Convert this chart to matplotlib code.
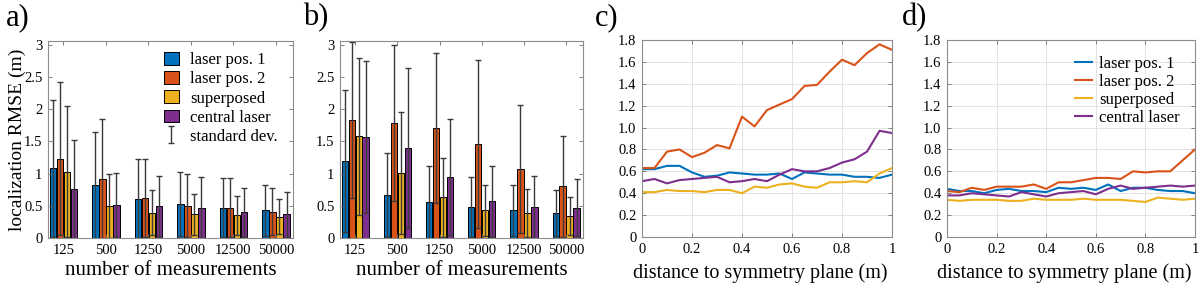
import numpy as np
import matplotlib
matplotlib.use("Agg")
import matplotlib.pyplot as plt

plt.rcParams['font.family'] = ['Liberation Serif', 'DejaVu Serif']

series = ['laser pos. 1', 'laser pos. 2', 'superposed', 'central laser']
colors = ['#0072BD', '#D95319', '#EDB120', '#7E2F8E']
n_meas = ['125', '500', '1250', '5000', '12500', '50000']

# panel a: mean RMSE and standard deviation per series
a_mean = [[1.08, 0.82, 0.61, 0.53, 0.47, 0.43],
          [1.23, 0.92, 0.62, 0.50, 0.47, 0.41],
          [1.03, 0.50, 0.39, 0.37, 0.35, 0.33],
          [0.76, 0.51, 0.49, 0.47, 0.40, 0.37]]
a_std = [[1.06, 0.83, 0.61, 0.50, 0.46, 0.40],
         [1.19, 0.93, 0.61, 0.49, 0.46, 0.37],
         [1.02, 0.50, 0.35, 0.32, 0.30, 0.27],
         [0.77, 0.50, 0.48, 0.47, 0.38, 0.35]]

# panel b
b_mean = [[1.20, 0.67, 0.56, 0.48, 0.43, 0.39],
          [1.83, 1.79, 1.71, 1.46, 1.07, 0.80],
          [1.58, 1.01, 0.63, 0.43, 0.39, 0.34],
          [1.57, 1.40, 0.95, 0.57, 0.48, 0.47]]
b_std = [[1.10, 0.65, 0.56, 0.47, 0.40, 0.36],
         [1.21, 1.21, 1.17, 1.30, 1.00, 0.78],
         [1.22, 0.95, 0.62, 0.40, 0.37, 0.29],
         [1.18, 1.24, 0.90, 0.55, 0.48, 0.44]]

dist = [0.0, 0.05, 0.1, 0.15, 0.2, 0.25, 0.3, 0.35, 0.4, 0.45, 0.5,
        0.55, 0.6, 0.65, 0.7, 0.75, 0.8, 0.85, 0.9, 0.95, 1.0]

c_lines = [
    [0.62, 0.62, 0.65, 0.65, 0.59, 0.55, 0.56, 0.59, 0.58, 0.57, 0.57,
     0.58, 0.53, 0.59, 0.58, 0.57, 0.57, 0.55, 0.55, 0.54, 0.57],
    [0.63, 0.63, 0.78, 0.80, 0.73, 0.77, 0.84, 0.81, 1.10, 1.01, 1.16,
     1.21, 1.26, 1.38, 1.39, 1.51, 1.62, 1.57, 1.68, 1.76, 1.71],
    [0.41, 0.41, 0.43, 0.42, 0.42, 0.41, 0.43, 0.43, 0.40, 0.46, 0.45,
     0.48, 0.49, 0.46, 0.45, 0.50, 0.50, 0.51, 0.50, 0.58, 0.63],
    [0.51, 0.53, 0.49, 0.52, 0.53, 0.54, 0.55, 0.50, 0.51, 0.53, 0.51,
     0.57, 0.62, 0.60, 0.60, 0.63, 0.68, 0.71, 0.78, 0.97, 0.95],
]

d_lines = [
    [0.44, 0.42, 0.42, 0.40, 0.43, 0.44, 0.42, 0.42, 0.41, 0.45, 0.44,
     0.45, 0.43, 0.48, 0.42, 0.45, 0.45, 0.43, 0.42, 0.42, 0.40],
    [0.42, 0.41, 0.45, 0.43, 0.46, 0.46, 0.46, 0.48, 0.44, 0.50, 0.50,
     0.52, 0.54, 0.54, 0.53, 0.60, 0.59, 0.60, 0.60, 0.70, 0.80],
    [0.34, 0.33, 0.34, 0.34, 0.34, 0.33, 0.33, 0.35, 0.34, 0.34, 0.34,
     0.35, 0.34, 0.34, 0.34, 0.33, 0.32, 0.36, 0.35, 0.34, 0.35],
    [0.38, 0.38, 0.40, 0.39, 0.38, 0.37, 0.41, 0.39, 0.37, 0.40, 0.41,
     0.42, 0.39, 0.44, 0.47, 0.44, 0.45, 0.46, 0.47, 0.46, 0.47],
]

W, H = 1200, 284
fig = plt.figure(figsize=(12, 2.84), dpi=100)


def box(l, r, t, b):
    return [l / W, 1 - b / H, (r - l) / W, (b - t) / H]


def style(ax):
    for s in ax.spines.values():
        s.set_color('#8c8c8c')
        s.set_linewidth(0.8)
    ax.tick_params(direction='in', top=True, right=True, length=3,
                   color='#6e6e6e', labelsize=10.5, width=0.6, pad=4)


def bar_panel(ax, means, stds, legend=False):
    x = np.arange(len(n_meas))
    w = 0.15
    for i in range(4):
        pos = x + (i - 1.5) * 0.165
        ax.bar(pos, means[i], w, color=colors[i], edgecolor='black',
               linewidth=0.7, label=series[i])
        ax.errorbar(pos, means[i], yerr=stds[i], fmt='none', ecolor='#3a3a3a',
                    elinewidth=1.0, capsize=2.2, capthick=1.0)
    ax.set_xlim(-0.36, len(n_meas) - 0.6)
    ax.set_ylim(0, 3.06)
    ax.set_yticks([0, 0.5, 1, 1.5, 2, 2.5, 3])
    ax.set_yticklabels(['0', '0.5', '1', '1.5', '2', '2.5', '3'])
    ax.set_xticks(x)
    ax.set_xticklabels(n_meas)
    ax.set_xlabel('number of measurements', fontsize=15, labelpad=3)
    style(ax)
    if legend:
        h, l = ax.get_legend_handles_labels()
        sd = ax.errorbar([np.nan], [np.nan], yerr=[1.0], fmt='none',
                         ecolor='#3a3a3a', elinewidth=1.0, capsize=2.2,
                         capthick=1.0)
        ax.legend(h[:4] + [sd], l[:4] + ['standard dev.'], loc='upper right',
                  frameon=False, fontsize=12, handlelength=0.9,
                  handleheight=0.8, labelspacing=0.18, handletextpad=0.7,
                  bbox_to_anchor=(1.0, 1.02))


def line_panel(ax, lines, legend=False):
    for i in range(4):
        ax.plot(dist, lines[i], color=colors[i], linewidth=1.5, label=series[i])
    ax.set_xlim(0, 1)
    ax.set_ylim(0, 1.8)
    ax.set_xticks([0, 0.2, 0.4, 0.6, 0.8, 1])
    ax.set_xticklabels(['0', '0.2', '0.4', '0.6', '0.8', '1'])
    ax.set_yticks(np.arange(0, 1.81, 0.2))
    ax.set_yticklabels(['0'] + ['%.1f' % v for v in np.arange(0.2, 1.81, 0.2)])
    ax.grid(True, color='#e3e3e3', linewidth=0.7)
    ax.set_xlabel('distance to symmetry plane (m)', fontsize=14.5)
    ax.xaxis.set_label_coords(0.472, -0.135)
    style(ax)
    if legend:
        ax.legend(loc='upper right', frameon=False, fontsize=12,
                  handlelength=1.0, labelspacing=0.12, handletextpad=0.45,
                  bbox_to_anchor=(1.0, 0.995))


ax_a = fig.add_axes(box(48, 293, 41, 238))
bar_panel(ax_a, a_mean, a_std, legend=True)
ax_a.set_ylabel('localization RMSE (m)', fontsize=14)
ax_a.yaxis.set_label_coords(-0.09, 0.5)

ax_b = fig.add_axes(box(340, 583, 41, 238))
bar_panel(ax_b, b_mean, b_std)

ax_c = fig.add_axes(box(642, 892, 40, 237))
line_panel(ax_c, c_lines)

ax_d = fig.add_axes(box(947, 1195, 40, 237))
line_panel(ax_d, d_lines, legend=True)

for lab, xp in zip(['a)', 'b)', 'c)', 'd)'], [6, 303, 595, 902]):
    fig.text(xp / W, 1 - 3 / H, lab, fontsize=22, va='top', ha='left')

fig.savefig('out.png', dpi=100)
